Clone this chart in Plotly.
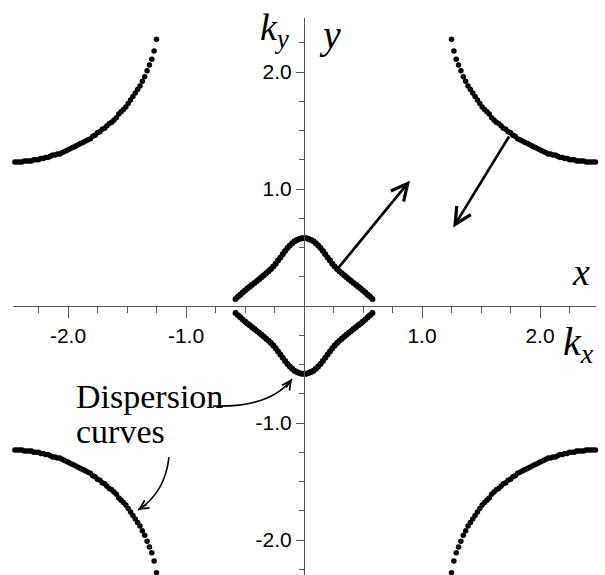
import plotly.graph_objects as go

W, H = 605, 575

# Outer iso-frequency contour in the first quadrant (kx, ky); the other
# three corners are its mirror images.
outer_kx = [1.25, 1.27, 1.29, 1.31, 1.33, 1.35, 1.37, 1.39, 1.41, 1.43,
            1.45, 1.47, 1.49, 1.51, 1.53, 1.55, 1.57, 1.59, 1.61, 1.63,
            1.65, 1.67, 1.69, 1.71, 1.73, 1.75, 1.77, 1.79, 1.81, 1.83,
            1.85, 1.87, 1.89, 1.91, 1.93, 1.95, 1.97, 1.99, 2.01, 2.03,
            2.05, 2.07, 2.09, 2.11, 2.13, 2.15, 2.17, 2.19, 2.21, 2.23,
            2.25, 2.27, 2.29, 2.31, 2.33, 2.35, 2.37, 2.39, 2.41, 2.43,
            2.45, 2.47, 2.49]
outer_ky = [2.28, 2.18, 2.11, 2.06, 2.01, 1.96, 1.92, 1.88, 1.85, 1.82,
            1.79, 1.76, 1.73, 1.70, 1.68, 1.66, 1.64, 1.61, 1.59, 1.57,
            1.56, 1.54, 1.52, 1.51, 1.49, 1.48, 1.46, 1.45, 1.43, 1.42,
            1.41, 1.40, 1.39, 1.38, 1.37, 1.36, 1.35, 1.34, 1.33, 1.32,
            1.31, 1.30, 1.30, 1.29, 1.29, 1.28, 1.27, 1.27, 1.26, 1.26,
            1.25, 1.25, 1.25, 1.24, 1.24, 1.24, 1.24, 1.23, 1.23, 1.23,
            1.23, 1.23, 1.23]

# Central contour, upper half, kx >= 0 (mirrored in kx and ky)
inner_kx = [0.00, 0.02, 0.04, 0.06, 0.08, 0.10, 0.12, 0.14, 0.16, 0.18,
            0.20, 0.22, 0.24, 0.26, 0.28, 0.30, 0.32, 0.34, 0.36, 0.38,
            0.40, 0.42, 0.44, 0.46, 0.48, 0.50, 0.52, 0.54, 0.56, 0.58]
inner_ky = [0.580, 0.578, 0.573, 0.565, 0.553, 0.537, 0.518, 0.495, 0.470, 0.443,
            0.415, 0.388, 0.362, 0.338, 0.316, 0.297, 0.279, 0.262, 0.245, 0.229,
            0.213, 0.197, 0.181, 0.165, 0.149, 0.133, 0.115, 0.097, 0.078, 0.059]

x_tick_vals = [-2.0, -1.0, 1.0, 2.0]
y_tick_vals = [-2.0, -1.0, 1.0, 2.0]
minor_vals = [-2.25, -1.75, -1.5, -1.25, -0.75, -0.5, -0.25, 0.25, 0.5, 0.75,
              1.25, 1.5, 1.75, 2.25]

# Plot geometry (pixels) -> axis ranges
X0_PX, XAX_L, XAX_R, X_SCALE = 304, 13, 596, 118.0
Y0_PX, YAX_T, Y_SCALE = 306, 18, 117.0
x_range = [(XAX_L - X0_PX) / X_SCALE, (XAX_R - X0_PX) / X_SCALE]
y_range = [(Y0_PX - H) / Y_SCALE, (Y0_PX - YAX_T) / Y_SCALE]

OUTER_DOT = dict(color="black", size=5.5, line=dict(width=0))
INNER_DOT = dict(color="black", size=6, line=dict(width=0))

fig = go.Figure()

for sx, sy in [(1, 1), (-1, 1), (1, -1), (-1, -1)]:
    fig.add_trace(go.Scatter(
        x=[sx * v for v in outer_kx], y=[sy * v for v in outer_ky],
        mode="markers", marker=OUTER_DOT, cliponaxis=False, showlegend=False,
        hoverinfo="skip"))

full_kx = [-v for v in inner_kx[:0:-1]] + inner_kx
full_ky = inner_ky[:0:-1] + inner_ky
for sy in (1, -1):
    fig.add_trace(go.Scatter(
        x=full_kx, y=[sy * v for v in full_ky],
        mode="markers", marker=INNER_DOT, cliponaxis=False, showlegend=False,
        hoverinfo="skip"))


def paper(xp, yp):
    return xp / W, 1 - yp / H


def k(xp, yp):
    return (xp - X0_PX) / X_SCALE, (Y0_PX - yp) / Y_SCALE


annotations = []

# straight arrows: (tail, head) in k units
for tail, head in [((0.277, 0.308), (0.898, 1.071)),
                   ((1.746, 1.462), (1.265, 0.672))]:
    annotations.append(dict(
        x=head[0], y=head[1], ax=tail[0], ay=tail[1], xref="x", yref="y",
        axref="x", ayref="y", text="", showarrow=True, arrowhead=5,
        arrowsize=1.2, arrowwidth=2.7, arrowcolor="black", standoff=0))

# curved pointer arrows: start, control, tip (pixels) and head offset
shapes = []
for p0, c, p1, off in [((213, 406), (270, 408), (292, 379), (-7, 10)),
                       ((169, 457), (165, 493), (138, 510), (10, -6.5))]:
    a, b, t = k(*p0), k(*c), k(*p1)
    shapes.append(dict(
        type="path", xref="x", yref="y",
        path=f"M {a[0]},{a[1]} Q {b[0]},{b[1]} {t[0]},{t[1]}",
        line=dict(color="black", width=1.6)))
    annotations.append(dict(
        x=t[0], y=t[1], ax=off[0], ay=off[1], xref="x", yref="y",
        text="", showarrow=True, arrowhead=5, arrowsize=1.1,
        arrowwidth=1.6, arrowcolor="black", standoff=0))

SERIF = "Liberation Serif, Times New Roman, serif"
labels = [
    ("<i>k</i><sub><i>y</i></sub>", 274, 30, 38),
    ("<i>y</i>", 330, 34, 40),
    ("<i>x</i>", 581, 272, 38),
    ("<i>k</i><sub><i>x</i></sub>", 578, 344, 40),
]
for txt, xp, yp, fs in labels:
    px, py = paper(xp, yp)
    annotations.append(dict(
        x=px, y=py, xref="paper", yref="paper", text=txt, showarrow=False,
        xanchor="center", yanchor="middle",
        font=dict(family=SERIF, size=fs, color="black")))

for txt, yp in [("Dispersion", 396), ("curves", 432)]:
    px, py = paper(74, yp)
    annotations.append(dict(
        x=px, y=py, xref="paper", yref="paper", text=txt, showarrow=False,
        xanchor="left", yanchor="middle",
        font=dict(family=SERIF, size=34, color="black")))

AX_COLOR = "#555555"
TICK_FONT = dict(family="Liberation Sans, Arial, sans-serif", size=21,
                 color="black")

fig.update_layout(
    width=W, height=H, margin=dict(l=0, r=0, t=0, b=0),
    paper_bgcolor="white", plot_bgcolor="white",
    showlegend=False, shapes=shapes, annotations=annotations,
    xaxis=dict(
        domain=[XAX_L / W, XAX_R / W], range=x_range, anchor="free",
        position=1 - Y0_PX / H, showgrid=False, zeroline=False,
        showline=True, linecolor=AX_COLOR, linewidth=1,
        tickmode="array", tickvals=x_tick_vals,
        ticktext=[f"{v:.1f}" for v in x_tick_vals],
        ticks="outside", ticklen=11, tickwidth=1, tickcolor=AX_COLOR,
        tickfont=TICK_FONT,
        minor=dict(tickmode="array", tickvals=minor_vals, ticks="outside",
                   ticklen=6, tickwidth=1, tickcolor=AX_COLOR),
    ),
    yaxis=dict(
        domain=[0, 1 - YAX_T / H], range=y_range, anchor="free",
        position=X0_PX / W, side="left", showgrid=False, zeroline=False,
        showline=True, linecolor=AX_COLOR, linewidth=1,
        tickmode="array", tickvals=y_tick_vals,
        ticktext=[f"{v:.1f}" for v in y_tick_vals],
        ticks="outside", ticklen=8, tickwidth=1, tickcolor=AX_COLOR,
        tickfont=TICK_FONT,
        minor=dict(tickmode="array", tickvals=minor_vals, ticks="outside",
                   ticklen=5, tickwidth=1, tickcolor=AX_COLOR),
    ),
)

fig.write_html("out.html")
